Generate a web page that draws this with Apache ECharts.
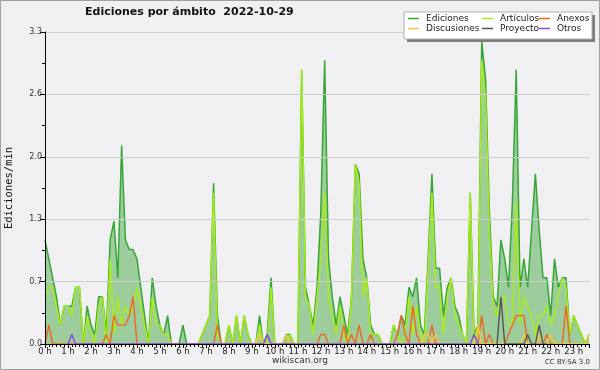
<!DOCTYPE html>
<html>
<head>
<meta charset="utf-8">
<script src="https://cdn.jsdelivr.net/npm/echarts@6/dist/echarts.min.js"></script>
<style>html,body{margin:0;padding:0;background:#f0f0f2}#c{width:600px;height:370px}</style>
</head>
<body>
<div id="c"></div>
<script>
// 10-minute steps from 0:00 (index i -> i*10 min)
const hourLabels = ['0 h','1 h','2 h','3 h','4 h','5 h','6 h','7 h','8 h','9 h','10 h','11 h','12 h','13 h','14 h','15 h','16 h','17 h','18 h','19 h','20 h','21 h','22 h','23 h'];
const yTicks = [0, 0.66, 1.32, 1.98, 2.64, 3.3];

const ediciones = [
1.1,0.9,0.7,0.5,0.2,0.4, 0.4,0.4,0.6,0.6,0,0.4, 0.2,0.1,0.5,0.5,0.1,1.1, 1.3,0.7,2.1,1.1,1.0,1.0,
0.9,0.6,0.3,0,0.7,0.4, 0.2,0.1,0.3,0,0,0, 0.2,0,0,0,0,0.1, 0.2,0.3,1.7,0.3,0,0,
0.2,0,0.3,0,0.3,0.1, 0,0,0.3,0,0.1,0.7, 0,0,0,0.1,0.1,0, 0,2.9,0.6,0.4,0.2,0.6,
1.4,3.0,0.9,0.5,0.2,0.5, 0.3,0.1,0.5,1.9,1.8,0.9, 0.7,0.2,0.1,0.1,0,0, 0,0.2,0.1,0.3,0.2,0.6,
0.5,0.7,0.2,0.1,0.9,1.8, 0.8,0.8,0.3,0.6,0.7,0.4, 0.3,0.1,0,1.6,0.1,0.2, 3.2,2.8,1.4,0.5,0.4,1.1,
0.9,0.6,1.5,2.9,0.6,0.9, 0.6,1.2,1.8,1.2,0.7,0.7, 0.3,0.9,0.6,0.7,0.7,0.1, 0.3,0.2,0.1,0,0.1
];
const articulos = [
0.5,0.6,0.6,0.4,0.2,0.4, 0.4,0.3,0.6,0.6,0,0.3, 0.1,0,0.4,0.5,0,0.9, 0.1,0.5,0.2,0.4,0.3,0.4,
0.6,0.4,0.2,0,0.5,0.2, 0.2,0.1,0.1,0,0,0, 0,0,0,0,0,0.1, 0.2,0.3,1.6,0.1,0,0,
0.2,0,0.3,0,0.3,0.1, 0,0,0.2,0,0,0.6, 0,0,0,0,0.1,0, 0,2.9,0.5,0.4,0.1,0.5,
0.9,1.6,0.5,0.3,0.1,0.4, 0.1,0,0.5,1.9,1.7,0.5, 0.7,0.1,0.1,0.1,0,0, 0,0.2,0.1,0,0.1,0.5,
0.1,0.4,0.1,0,0.8,1.6, 0.6,0.6,0.1,0.5,0.7,0.3, 0.2,0.1,0,1.6,0,0, 3.0,2.6,1.2,0.4,0.3,0.5,
0.5,0.2,0.2,1.5,0.2,0.5, 0.4,0.3,0.1,0.3,0.3,0.4, 0.2,0.3,0.5,0.7,0.6,0.1, 0.3,0.2,0.1,0,0.1
];
// sparse small series: [index, value]
const anexos = [[0,0],[1,0.2],[2,0],[15,0],[16,0.1],[17,0],[18,0.3],[19,0.2],[20,0.2],[21,0.2],[22,0.3],[23,0.5],[24,0],
[44,0],[45,0.2],[46,0],[71,0],[72,0.1],[73,0.1],[74,0],[77,0],[78,0.2],[79,0],[80,0.1],[81,0],[82,0.2],[83,0],[84,0],[85,0.1],[86,0],
[91,0],[92,0.1],[93,0.3],[94,0.1],[95,0],[96,0.4],[97,0.1],[98,0],[100,0],[101,0.2],[102,0],[113,0],[114,0.3],[115,0],[116,0.1],[117,0],
[120,0],[121,0.1],[122,0.2],[123,0.3],[124,0.3],[125,0.3],[126,0],[130,0],[131,0.1],[132,0],[135,0],[136,0.4],[137,0]];
const discusiones = [[55,0],[56,0.1],[57,0],[62,0],[63,0.1],[64,0],[98,0],[99,0.1],[100,0.1],[101,0],[102,0.1],[103,0],
[112,0],[113,0.2],[114,0],[124,0],[125,0.1],[126,0],[128,0],[129,0.1],[130,0],[131,0],[132,0.1],[133,0],[141,0],[142,0.1]];
const proyecto = [[118,0],[119,0.5],[120,0],[125,0],[126,0.1],[127,0],[128,0],[129,0.2],[130,0],[131,0]];
const otros = [[6,0],[7,0.1],[8,0],[57,0],[58,0.1],[59,0],[111,0],[112,0.1],[113,0]];

const C = {ed:'#36a636', fill:'#9dcc9d', art:'#aaee11', anx:'#ee6622', dis:'#f8c838', pro:'#555555', otr:'#8844ee'};
const FONT = 'DejaVu Sans';

const chart = echarts.init(document.getElementById('c'), null, {renderer:'canvas'});
function lineSeries(name, data, color, extra) {
  return Object.assign({
    name, type:'line', data, symbol:'none', showSymbol:false, animation:false,
    lineStyle:{color, width:1.4}, itemStyle:{color}, z:3
  }, extra || {});
}
const legItem = (name, left, top) => ({
  data:[name], left, top, padding:0, itemWidth:11, itemHeight:1.5, icon:'rect', itemGap:0,
  textStyle:{fontFamily:FONT, fontSize:9, color:'#222', padding:[0,0,0,2]}, z:60, selectedMode:false
});
chart.setOption({
  backgroundColor:'#f0f0f2',
  animation:false,
  title:{text:'Ediciones por ámbito  2022-10-29', left:85, top:7, padding:0,
    textStyle:{fontFamily:FONT, fontSize:11, fontWeight:'bold', color:'#111'}},
  legend:[
    legItem('Ediciones',408,14), legItem('Artículos',482,14), legItem('Anexos',539,14),
    legItem('Discusiones',408,24), legItem('Proyecto',482,24), legItem('Otros',539,24)
  ],
  grid:{left:45, right:11, top:32, bottom:26, containLabel:false, outerBoundsMode:'none'},
  xAxis:{type:'value', min:0, max:142, interval:6, z:10,
    axisLine:{lineStyle:{color:'#000', width:1}},
    axisTick:{show:true, length:4, lineStyle:{color:'#000'}},
    minorTick:{show:true, splitNumber:6, length:3, lineStyle:{color:'#000'}},
    splitLine:{show:false},
    axisLabel:{fontFamily:FONT, fontSize:8.5, color:'#222', margin:3,
      formatter:v => (v % 6 === 0 ? hourLabels[v/6] : '')}},
  yAxis:{type:'value', min:yTicks[0], max:yTicks[yTicks.length-1], interval:0.66, z:10,
    name:'Ediciones/min', nameLocation:'middle', nameGap:30,
    nameTextStyle:{fontFamily:'DejaVu Sans Mono', fontSize:10.5, color:'#111'},
    axisLine:{show:true, lineStyle:{color:'#000'}},
    axisTick:{show:true, length:5, lineStyle:{color:'#000'}},
    minorTick:{show:true, splitNumber:2, length:3, lineStyle:{color:'#000'}},
    splitLine:{show:true, lineStyle:{color:'#cdcdcd', width:1}},
    axisLabel:{fontFamily:FONT, fontSize:8, color:'#333', margin:3,
      formatter:v => (Math.round(v*10)/10).toFixed(1)}},
  graphic:[
    {type:'rect', shape:{x:0.5,y:0.5,width:599,height:369}, style:{fill:'none', stroke:'#a0a0a0', lineWidth:1}, z:50},
    {type:'rect', shape:{x:407,y:15,width:188,height:27}, style:{fill:'#7a7a7a'}, z:50},
    {type:'rect', shape:{x:404,y:12,width:188,height:27}, style:{fill:'#ffffff', stroke:'#b0b0b0', lineWidth:1}, z:51},
    {type:'text', style:{text:'wikiscan.org', x:300, y:361, align:'center', verticalAlign:'middle', font:'9px "DejaVu Sans"', fill:'#333'}, z:50},
    {type:'text', style:{text:'CC BY-SA 3.0', x:590, y:362, align:'right', verticalAlign:'middle', font:'7px "DejaVu Sans"', fill:'#333'}, z:50}
  ],
  series:[
    lineSeries('Ediciones', ediciones.map((v,i)=>[i,v]), C.ed, {areaStyle:{color:C.fill, opacity:1}, z:2, lineStyle:{color:C.ed, width:1.5}}),
    lineSeries('Artículos', articulos.map((v,i)=>[i,v]), C.art),
    lineSeries('Anexos', anexos, C.anx),
    lineSeries('Discusiones', discusiones, C.dis),
    lineSeries('Proyecto', proyecto, C.pro),
    lineSeries('Otros', otros, C.otr)
  ]
});
</script>
</body>
</html>
